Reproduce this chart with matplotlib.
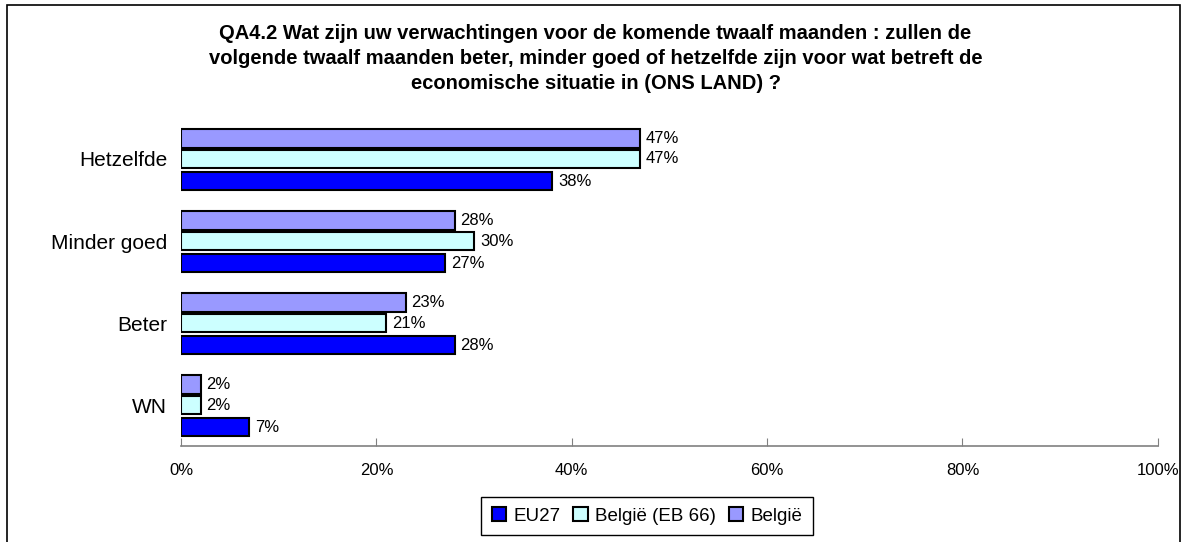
import matplotlib
matplotlib.use('Agg')
import matplotlib.pyplot as plt
from matplotlib.patches import Rectangle
import numpy as np

plt.rcParams['font.family'] = ['Liberation Sans', 'DejaVu Sans']

categories = ['WN', 'Beter', 'Minder goed', 'Hetzelfde']
eu27 = [7, 28, 27, 38]
belgie_eb66 = [2, 21, 30, 47]
belgie = [2, 23, 28, 47]
series_names = ['EU27', 'België (EB 66)', 'België']
colors = ['#0000FF', '#CCFFFF', '#9999FF']
xticks = [0, 20, 40, 60, 80, 100]

title = ('QA4.2 Wat zijn uw verwachtingen voor de komende twaalf maanden : zullen de\n'
         'volgende twaalf maanden beter, minder goed of hetzelfde zijn voor wat betreft de\n'
         'economische situatie in (ONS LAND) ?')

fig = plt.figure(figsize=(11.84, 5.42), dpi=100)
ax = fig.add_axes([0.1529, 0.1771, 0.825, 0.6052])

y = np.arange(len(categories))
h = 0.22
offsets = [-0.27, 0.0, 0.25]
bars = []
for vals, off, col, name in zip([eu27, belgie_eb66, belgie], offsets, colors, series_names):
    b = ax.barh(y + off, vals, height=h, color=col, edgecolor='black', linewidth=1.5, label=name)
    bars.append(b)
    for yi, v in zip(y, vals):
        ax.text(v + 0.6, yi + off, f'{v}%', va='center', ha='left', fontsize=12)

ax.set_xlim(0, 100)
ax.set_ylim(-0.5, 3.5)
ax.set_yticks(y)
ax.set_yticklabels(categories, fontsize=15)
ax.set_xticks(xticks)
ax.set_xticklabels([f'{t}%' for t in xticks], fontsize=12)
ax.tick_params(axis='y', length=0, pad=10)
ax.tick_params(axis='x', direction='in', length=6, color='#808080', pad=12)
for s in ['left', 'right', 'top']:
    ax.spines[s].set_visible(False)
ax.spines['bottom'].set_color('#808080')
ax.spines['bottom'].set_linewidth(1.2)

fig.text(0.503, 0.955, title, ha='center', va='top', fontsize=14.5, fontweight='bold',
         linespacing=1.38)

handles = [bars[0], bars[1], bars[2]]
leg = fig.legend(handles, series_names, loc='center', bbox_to_anchor=(0.5465, 0.048),
                 ncol=3, fontsize=13.5, handlelength=0.75, handleheight=0.75,
                 handletextpad=0.4, columnspacing=0.7, fancybox=False,
                 edgecolor='black', framealpha=1, borderpad=0.55)
leg.get_frame().set_linewidth(1.0)

fig.patches.append(Rectangle((7 / 1184, -0.1), 1173 / 1184, 1.1 - 5 / 542,
                             transform=fig.transFigure, fill=False,
                             edgecolor='black', linewidth=1.2))

fig.savefig('out.png', dpi=100)
